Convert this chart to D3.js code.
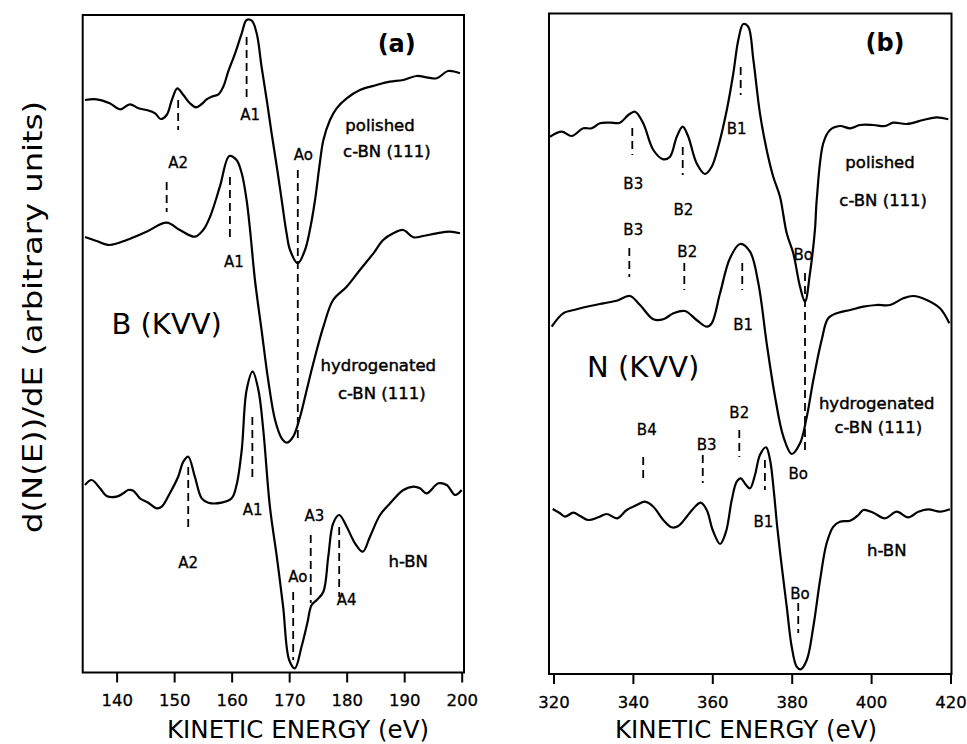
<!DOCTYPE html>
<html>
<head>
<meta charset="utf-8">
<script src="https://cdn.jsdelivr.net/npm/d3@7"></script>
<style>
  body { margin: 0; background: #fff; }
  svg text { font-family: "DejaVu Sans", sans-serif; fill: #000; }
  .heavy { stroke: #000; stroke-width: 0.45px; }
</style>
</head>
<body>
<svg id="chart" width="967" height="744"></svg>
<script>
// Auger spectra, d(N(E))/dE vs kinetic energy. Pairs are [eV, arbitrary units] (offsets included)

// ---- (a) B (KVV)
const aPolished = [
  [134.5, 57.25], [136.5, 57.32], [138.8, 56.92], [140.6, 56.32], [142.3, 56.82], [143.8, 56.42],
  [145.2, 56.25], [146.7, 55.92], [147.65, 55.35], [148.7, 55.75], [149.6, 57.25], [150.55, 58.42],
  [151.6, 57.75], [152.75, 56.92], [153.8, 56.52], [154.8, 56.85], [155.65, 57.32], [156.5, 57.58],
  [157.7, 57.82], [158.55, 58.58], [159.4, 60.08], [160.6, 61.92], [161.75, 63.92], [162.6, 65.25],
  [163.5, 65.18], [164.35, 63.92], [165.2, 60.58], [166.1, 57.25], [166.95, 53.92], [167.85, 50.58],
  [168.7, 47.25], [169.55, 43.92], [170.15, 42.25], [171.5, 40.92], [172.75, 42.25], [173.6, 44.25],
  [174.5, 47.25], [175.25, 50.58], [175.95, 53.25], [177.1, 55.25], [178.25, 56.42], [180.0, 57.42],
  [182.3, 58.25], [185.2, 58.75], [187.5, 59.08], [189.85, 59.25], [192.15, 59.65], [193.9, 59.52],
  [195.65, 59.42], [197.65, 60.15], [199.7, 59.92]
];
const aHydrogenated = [
  [134.5, 43.55], [136.5, 43.15], [138.8, 42.75], [141.75, 43.25], [145.2, 44.08], [148.7, 44.98],
  [151.0, 44.25], [153.6, 43.58], [155.05, 44.25], [156.25, 45.58], [157.95, 48.58], [159.6, 51.65],
  [160.85, 51.25], [161.75, 49.92], [162.6, 47.25], [163.2, 44.25], [164.05, 39.25], [165.2, 34.25],
  [166.35, 29.25], [167.55, 25.25], [168.7, 23.42], [169.65, 22.98], [170.7, 23.58], [171.9, 25.58],
  [173.05, 28.25], [174.2, 30.92], [175.95, 34.58], [177.65, 37.25], [180.0, 38.58], [182.3, 40.25],
  [184.65, 41.92], [186.35, 43.25], [188.1, 43.92], [189.85, 44.25], [191.6, 43.52], [193.3, 43.65],
  [195.65, 43.92], [197.95, 44.08], [199.7, 43.92]
];
const aHBN = [
  [134.5, 18.75], [135.65, 19.25], [137.1, 18.42], [138.25, 17.65], [140.0, 17.58], [141.15, 17.92],
  [142.0, 18.25], [142.9, 18.18], [144.05, 17.42], [145.5, 16.98], [146.95, 16.42], [147.85, 16.58],
  [149.25, 17.92], [150.7, 19.58], [151.6, 21.08], [152.45, 21.58], [153.6, 19.58], [154.8, 17.42],
  [155.95, 16.98], [158.25, 16.98], [160.0, 17.42], [160.85, 18.75], [161.75, 22.25], [162.6, 28.25],
  [163.65, 30.08], [164.65, 28.25], [165.5, 24.25], [166.65, 16.58], [167.85, 11.58], [168.95, 6.58],
  [170.0, 1.25], [171.0, 0.42], [172.15, 2.58], [173.15, 4.92], [173.9, 6.75], [174.8, 7.25],
  [175.95, 8.08], [176.8, 11.58], [177.65, 14.92], [178.7, 15.75], [180.0, 14.58], [181.45, 12.92],
  [182.8, 12.08], [184.05, 13.58], [185.8, 15.75], [187.55, 16.92], [189.85, 18.25], [191.6, 18.58],
  [192.75, 18.42], [193.9, 17.92], [195.95, 18.92], [197.4, 18.75], [198.85, 17.75], [200.0, 18.25]
];
// dashed peak markers: [eV, top, bottom]
const aMarkers = [
  [150.7, 57.25, 54.25], [148.7, 49.05, 46.05], [162.6, 63.55, 57.55], [159.7, 49.55, 43.55],
  [171.5, 50.25, 22.95], [152.45, 20.55, 14.25], [163.6, 25.55, 19.55], [173.75, 13.75, 6.95],
  [170.7, 8.05, 1.25], [178.7, 14.55, 7.55]
];
const aPeakNames = [
  ['A2', 150.7, 50.95], ['A1', 163.2, 55.75], ['A1', 160.4, 41.05], ['Ao', 172.45, 51.75],
  ['A2', 152.45, 10.95], ['A1', 163.65, 16.25], ['A3', 174.4, 15.65], ['Ao', 171.5, 9.6],
  ['A4', 180.0, 7.25]
];
const aSamples = [
  ['polished', 185.8, 54.75], ['c-BN (111)', 187.0, 52.1], ['hydrogenated', 185.5, 30.75],
  ['c-BN (111)', 186.1, 27.9], ['h-BN', 190.7, 11.1]
];
const aTicks = [140, 150, 160, 170, 180, 190, 200];

// ---- (b) N (KVV)
const bPolished = [
  [319.1, 53.73], [322.05, 54.23], [324.6, 53.8], [327.5, 54.57], [329.6, 54.57], [331.7, 55.07],
  [334.25, 55.13], [336.75, 55.13], [338.85, 55.9], [340.55, 56.23], [342.6, 55.07], [345.15, 52.4],
  [347.65, 51.47], [349.35, 51.73], [351.05, 53.73], [352.55, 54.73], [353.95, 53.73], [356.05, 51.07],
  [358.15, 50.0], [359.85, 50.73], [361.5, 52.73], [363.65, 56.4], [365.3, 60.07], [366.55, 63.4],
  [367.8, 65.0], [369.05, 64.73], [370.35, 61.4], [372.0, 56.07], [373.7, 52.4], [375.35, 49.73],
  [377.05, 47.73], [378.75, 44.07], [380.4, 42.07], [382.1, 38.73], [383.35, 37.23], [384.6, 40.07],
  [385.85, 44.4], [386.3, 47.4], [387.95, 53.07], [389.65, 54.4], [392.15, 54.8], [394.7, 54.57],
  [397.2, 54.9], [400.55, 54.9], [403.5, 54.8], [405.6, 55.13], [408.95, 55.0], [413.15, 55.4],
  [416.5, 55.67], [419.45, 55.47]
];
const bHydrogenated = [
  [319.55, 34.73], [322.45, 36.07], [325.85, 36.47], [329.2, 36.8], [332.55, 37.07], [335.9, 37.33],
  [339.25, 37.8], [341.8, 36.9], [345.15, 35.47], [347.65, 35.47], [350.2, 36.07], [353.1, 36.3],
  [356.05, 35.4], [358.6, 34.73], [359.85, 35.07], [361.95, 38.07], [364.45, 41.57], [367.0, 43.0],
  [369.5, 42.23], [371.6, 39.07], [373.7, 33.07], [375.8, 27.73], [377.9, 23.73], [380.0, 22.0],
  [382.1, 23.07], [383.8, 25.73], [385.45, 29.4], [387.55, 33.4], [389.2, 35.57], [391.75, 36.13],
  [394.7, 36.4], [398.05, 36.73], [401.4, 36.9], [404.75, 36.9], [408.1, 37.57], [410.65, 37.8],
  [414.0, 37.4], [417.35, 36.57], [419.7, 35.07]
];
const bHBN = [
  [319.8, 16.5], [321.65, 16.07], [322.9, 15.73], [325.0, 16.13], [326.7, 15.8], [328.75, 15.4],
  [331.3, 15.67], [333.4, 16.0], [336.05, 15.57], [338.45, 16.4], [340.95, 16.9], [343.05, 17.23],
  [345.15, 16.73], [347.65, 15.4], [349.75, 14.67], [351.45, 14.8], [353.55, 15.73], [355.65, 16.73],
  [357.1, 17.13], [358.6, 16.4], [360.1, 14.4], [361.95, 13.0], [363.45, 14.23], [364.9, 17.4],
  [366.15, 19.23], [367.15, 19.57], [368.5, 18.9], [369.5, 18.57], [370.75, 19.9], [372.0, 21.9],
  [373.55, 22.67], [374.55, 21.4], [375.55, 18.07], [376.35, 14.73], [377.5, 10.73], [378.75, 6.73],
  [380.0, 2.73], [381.25, 0.73], [382.25, 0.47], [383.8, 1.4], [385.45, 4.73], [387.15, 9.4],
  [388.8, 13.07], [390.5, 14.73], [392.15, 15.23], [394.7, 15.33], [396.8, 15.9], [398.05, 16.4],
  [400.55, 16.13], [403.5, 15.57], [406.45, 16.23], [409.35, 15.67], [411.9, 16.23], [414.4, 16.47],
  [417.35, 16.23], [419.85, 16.47]
];
const bMarkers = [
  [339.85, 54.6, 51.9], [352.55, 52.7, 49.9], [367.15, 60.7, 57.9], [339.1, 42.6, 39.7],
  [352.95, 41.1, 38.4], [367.55, 41.1, 38.4], [383.35, 40.1, 22.1], [342.6, 21.7, 19.1],
  [357.6, 21.9, 19.1], [366.8, 24.4, 21.7], [373.25, 21.4, 18.4], [381.65, 7.1, 4.1]
];
const bPeakNames = [
  ['B3', 340.1, 49.07], ['B2', 352.7, 46.4], ['B1', 366.15, 54.57], ['B3', 340.1, 44.4],
  ['B2', 353.7, 42.23], ['B1', 367.8, 34.9], ['Bo', 382.9, 41.9], ['Bo', 381.65, 20.0],
  ['B4', 343.5, 24.4], ['B3', 358.6, 22.9], ['B2', 366.8, 26.13], ['B1', 372.85, 15.23],
  ['Bo', 382.1, 8.07]
];
const bSamples = [
  ['polished', 402.25, 51.23], ['c-BN (111)', 403.05, 47.4], ['hydrogenated', 401.4, 27.07],
  ['c-BN (111)', 401.8, 24.73], ['h-BN', 403.95, 12.4]
];
const bTicks = [320, 340, 360, 380, 400, 420];

const svg = d3.select('#chart');

// Draw one panel
const drawPanel = (p) => {
  const x = d3.scaleLinear().domain(p.xDomain).range([p.left, p.right]);
  const y = d3.scaleLinear().domain(p.yDomain).range([p.bottom, p.top]);
  const g = svg.append('g');

  const line = d3.line()
    .x(d => x(d[0]))
    .y(d => y(d[1]))
    .curve(d3.curveCatmullRom.alpha(0.5));

  p.curves.forEach(c => {
    g.append('path')
      .datum(c)
      .attr('d', line)
      .attr('fill', 'none')
      .attr('stroke', '#000')
      .attr('stroke-width', 2.2)
      .attr('stroke-linejoin', 'round');
  });

  g.selectAll('line.mark')
    .data(p.markers)
    .enter()
    .append('line')
    .attr('class', 'mark')
    .attr('x1', d => x(d[0]))
    .attr('x2', d => x(d[0]))
    .attr('y1', d => y(d[1]))
    .attr('y2', d => y(d[2]))
    .attr('stroke', '#000')
    .attr('stroke-width', 1.8)
    .attr('stroke-dasharray', '8,5');

  g.selectAll('text.peak')
    .data(p.peaks)
    .enter()
    .append('text')
    .attr('class', 'peak heavy')
    .attr('x', d => x(d[1]))
    .attr('y', d => y(d[2]))
    .attr('dy', '0.36em')
    .attr('text-anchor', 'middle')
    .style('font-size', '15px')
    .style('stroke-width', '0.3px')
    .text(d => d[0]);

  g.selectAll('text.sample')
    .data(p.samples)
    .enter()
    .append('text')
    .attr('class', 'sample heavy')
    .attr('x', d => x(d[1]))
    .attr('y', d => y(d[2]))
    .attr('dy', '0.36em')
    .attr('text-anchor', 'middle')
    .style('font-size', '16.5px')
    .text(d => d[0]);

  g.append('text')
    .attr('x', x(p.element[1]))
    .attr('y', y(p.element[2]))
    .attr('dy', '0.36em')
    .attr('text-anchor', 'middle')
    .style('font-size', '29px')
    .text(p.element[0]);

  g.append('text')
    .attr('x', x(p.tag[1]))
    .attr('y', y(p.tag[2]))
    .attr('dy', '0.36em')
    .attr('text-anchor', 'middle')
    .style('font-size', '24px')
    .style('font-weight', 'bold')
    .text(p.tag[0]);

  // frame
  g.append('rect')
    .attr('x', p.left)
    .attr('y', p.top)
    .attr('width', p.right - p.left)
    .attr('height', p.bottom - p.top)
    .attr('fill', 'none')
    .attr('stroke', '#000')
    .attr('stroke-width', 2);

  const axis = g.append('g')
    .attr('transform', `translate(0,${p.bottom})`)
    .call(d3.axisBottom(x).tickValues(p.ticks).tickSize(10).tickPadding(12).tickFormat(d3.format('d')));
  axis.select('.domain').remove();
  axis.selectAll('.tick line').attr('stroke', '#000').attr('stroke-width', 2);
  axis.selectAll('.tick text')
    .attr('fill', '#000')
    .attr('class', 'heavy')
    .style('stroke-width', '0.3px')
    .style('font-family', '"DejaVu Sans", sans-serif')
    .style('font-size', '16.5px');

  g.append('text')
    .attr('x', p.titleX)
    .attr('y', 738)
    .attr('text-anchor', 'middle')
    .style('font-size', '24.5px')
    .text('KINETIC ENERGY (eV)');
};

drawPanel({
  left: 82.7, right: 464, top: 15, bottom: 672.5,
  xDomain: [134.1, 200.4], yDomain: [0, 65.75],
  ticks: aTicks,
  curves: [aPolished, aHydrogenated, aHBN],
  markers: aMarkers,
  peaks: aPeakNames,
  samples: aSamples,
  element: ['B (KVV)', 148.7, 34.9],
  tag: ['(a)', 188.7, 62.9],
  titleX: 298
});

drawPanel({
  left: 549, right: 951.5, top: 13.5, bottom: 674,
  xDomain: [318.87, 420.25], yDomain: [0, 66.05],
  ticks: bTicks,
  curves: [bPolished, bHydrogenated, bHBN],
  markers: bMarkers,
  peaks: bPeakNames,
  samples: bSamples,
  element: ['N (KVV)', 342.6, 30.7],
  tag: ['(b)', 403.5, 63.2],
  titleX: 746
});

svg.append('text')
  .attr('transform', 'translate(42,317) rotate(-90)')
  .attr('text-anchor', 'middle')
  .attr('textLength', 432)
  .attr('lengthAdjust', 'spacingAndGlyphs')
  .style('font-size', '27px')
  .text('d(N(E))/dE (arbitrary units)');
</script>
</body>
</html>
